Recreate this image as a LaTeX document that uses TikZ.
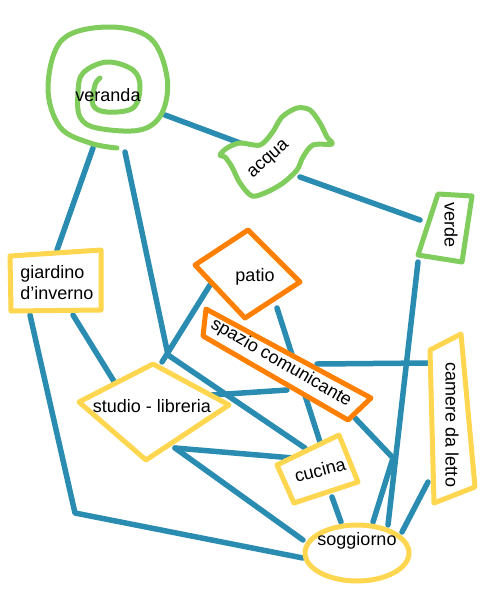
\documentclass[tikz,border=0pt]{standalone}
\usepackage{fontspec}
\setmainfont{Liberation Sans}
\usetikzlibrary{calc}
\definecolor{eblue}{RGB}{43,140,178}
\definecolor{sgreen}{RGB}{128,204,92}
\definecolor{syellow}{RGB}{255,214,79}
\definecolor{sorange}{RGB}{255,128,0}
\pgfdeclarelayer{edges}
\pgfdeclarelayer{shapes}
\pgfsetlayers{edges,shapes,main}
\begin{document}
\begin{tikzpicture}[x=1pt,y=-1pt,
  edge/.style={draw=eblue,line width=5.5pt,line cap=round,line join=round},
  gline/.style={draw=sgreen,line width=5pt,line cap=round,line join=round},
  yline/.style={draw=syellow,line width=5pt,line cap=round,line join=round,fill=white},
  oline/.style={draw=sorange,line width=5pt,line cap=round,line join=round,fill=white},
  lbl/.style={font=\fontsize{18}{21}\selectfont,inner sep=0pt,text=black}]
\useasboundingbox (0,0) rectangle (500,600);
% labels (nodes)
\node[lbl] (veranda) at (108,95) {veranda};
\node[lbl,rotate=42] (acqua) at (269,160) {acqua};
\node[lbl,rotate=-90] (verde) at (451,225) {verde};
\node[lbl,align=left] (giardino) at (57,283) {giardino\\d’inverno};
\node[lbl] (patio) at (255,277) {patio};
\node[lbl,rotate=-30] (spazio) at (281,363) {spazio comunicante};
\node[lbl] (studio) at (152,406) {studio - libreria};
\node[lbl,rotate=15] (cucina) at (320,470) {cucina};
\node[lbl,rotate=-90] (camere) at (452,425) {camere da letto};
\node[lbl] (soggiorno) at (357,541) {soggiorno};
% shapes
\begin{pgfonlayer}{shapes}
\draw[gline] plot[smooth,tension=0.6] coordinates {(100,78) (95,85) (93,105) (107,112) (133,108) (140,87) (133,70) (107,62) (83,73) (78,93) (80,117) (97,128) (140,130) (162,113) (167,77) (150,38) (107,27) (62,40) (48,87) (60,127) (90,143) (117,148)};
\draw[gline,fill=white] plot[smooth cycle,tension=0.5] coordinates {(220,155) (227,148) (240,143) (260,145) (272,133) (282,117) (297,108) (310,110) (320,123) (327,137) (332,144) (313,145) (303,157) (297,170) (283,183) (267,192) (252,196) (240,183) (232,167) (225,157)};
\draw[gline,fill=white] (438,194) -- (472,196) -- (462,262) -- (418,255) -- cycle;
\draw[yline] (10,256) -- (101,250) -- (101,310) -- (11,311) -- cycle;
\draw[oline] (248,230) -- (300,282) -- (245,318) -- (195,265) -- cycle;
\draw[oline] (206,309) -- (371,398) -- (348,420) -- (203,336) -- cycle;
\draw[yline] (153,364) -- (229,405) -- (146,460) -- (79,402) -- cycle;
\draw[yline] (277,465) -- (339,435) -- (358,482) -- (294,503) -- cycle;
\draw[yline] (430,350) -- (461,334) -- (475,487) -- (434,503) -- cycle;
\draw[yline] (357,553) ellipse [x radius=52, y radius=28];
\end{pgfonlayer}
% connectors
\begin{pgfonlayer}{edges}
\draw[edge] ($(veranda)+(57,20)$) -- ($(acqua)+(-29,-17)$);
\draw[edge] ($(acqua)+(31,17)$) -- ($(verde)+(-31,-5)$);
\draw[edge] ($(veranda)+(-15,53)$) -- ($(giardino)+(0,-33)$);
\draw[edge] ($(veranda)+(17,57)$) -- ($(studio)+(16,-51)$) -- ($(cucina)+(-15,-22)$);
\draw[edge] ($(patio)+(-45,8)$) -- ($(studio)+(10,-44)$);
\draw[edge] ($(giardino)+(16,32)$) -- ($(studio)+(-37,-23)$);
\draw[edge] ($(giardino)+(-27,32)$) -- ($(giardino)+(18,230)$) -- ($(soggiorno)+(-54,17)$);
\draw[edge] ($(studio)+(23,42)$) -- ($(cucina)+(-27,-12)$);
\draw[edge] ($(studio)+(23,42)$) -- ($(soggiorno)+(-54,-1)$);
\draw[edge] ($(patio)+(22,31)$) -- ($(cucina)+(0,-28)$);
\draw[edge] ($(spazio)+(6,27)$) -- ($(studio)+(60,-11)$);
\draw[edge] ($(spazio)+(36,1)$) -- ($(camere)+(-24,-62)$);
\draw[edge] ($(spazio)+(74,55)$) -- ($(soggiorno)+(36,-83)$) -- ($(soggiorno)+(16,-19)$);
\draw[edge] ($(verde)+(-33,37)$) -- ($(soggiorno)+(31,-16)$);
\draw[edge] ($(camere)+(-24,57)$) -- ($(soggiorno)+(45,-9)$);
\draw[edge] ($(cucina)+(12,27)$) -- ($(soggiorno)+(-16,-19)$);
\end{pgfonlayer}
\end{tikzpicture}
\end{document}
